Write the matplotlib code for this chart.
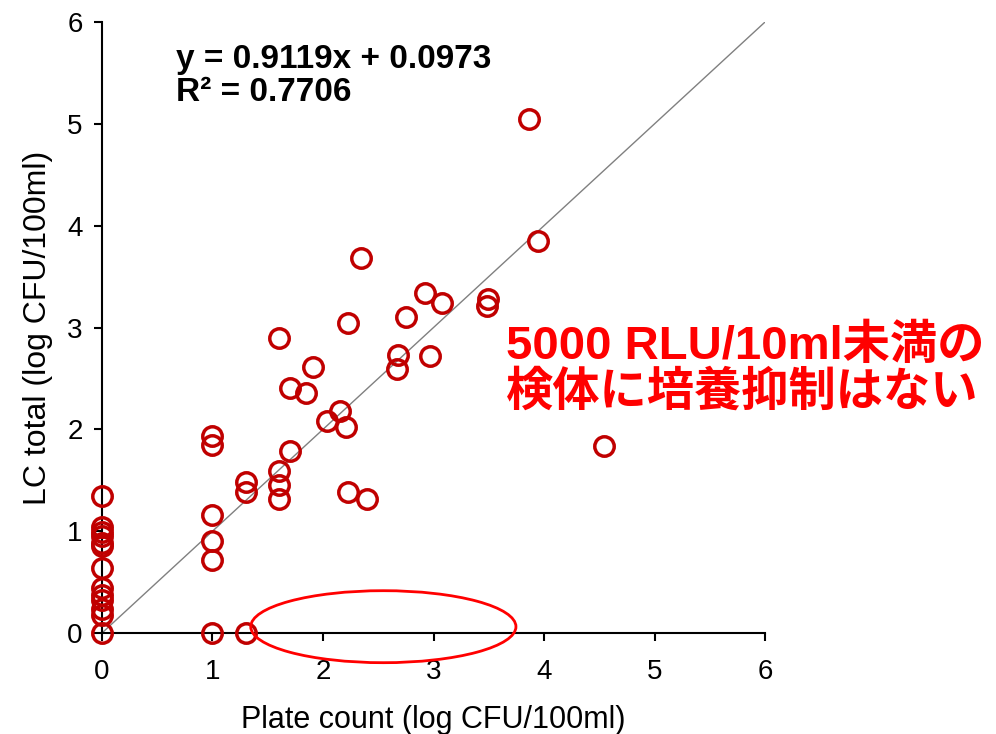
import matplotlib.pyplot as plt
from matplotlib.patches import Ellipse

plt.rcParams['font.family'] = ['Liberation Sans', 'DejaVu Sans']

# plate count (log CFU/100ml) vs LC total (log CFU/100ml)
plate = [0, 0, 0, 0, 0, 0, 0, 0, 0, 0, 0, 0, 0,
         1, 1, 1, 1, 1, 1, 1.3, 1.3, 1.3,
         1.6, 1.6, 1.6, 1.6, 1.7, 1.7, 1.85, 1.91,
         2.04, 2.15, 2.21, 2.23, 2.23, 2.34, 2.40,
         2.67, 2.68, 2.75, 2.92, 2.97, 3.08, 3.48, 3.49,
         3.86, 3.95, 4.54]
lc = [1.35, 1.04, 0.99, 0.95, 0.88, 0.85, 0.64, 0.44, 0.37, 0.32, 0.24, 0.18, 0,
      1.93, 1.85, 1.16, 0.90, 0.72, 0, 1.48, 1.38, 0,
      2.90, 1.59, 1.45, 1.32, 2.41, 1.79, 2.36, 2.61,
      2.08, 2.18, 2.02, 3.04, 1.38, 3.68, 1.32,
      2.59, 2.73, 3.10, 3.34, 2.72, 3.24, 3.21, 3.28,
      5.05, 3.85, 1.84]

eq_text = 'y = 0.9119x + 0.0973\nR² = 0.7706'
note_text = '5000 RLU/10ml未満の\n検体に培養抑制はない'

fig = plt.figure(figsize=(9.96, 7.34), dpi=100)
ax = fig.add_axes([0.1024, 0.1376, 0.6657, 0.8324])

# y = x reference line
ax.plot([0, 6], [0, 6], color='#808080', lw=1, zorder=1)
ax.plot(plate, lc, 'o', mfc='none', mec='#C00000', ms=14, mew=2.5,
        clip_on=False, zorder=3)

ax.add_patch(Ellipse((2.546, 0.062), 2.40, 0.707, fill=False,
                     edgecolor='#FF0000', lw=2, clip_on=False, zorder=4))

ax.set_xlim(0, 6)
ax.set_ylim(0, 6)
ax.set_xticks(range(7))
ax.set_yticks(range(7))
for s in ['top', 'right']:
    ax.spines[s].set_visible(False)
for s in ['left', 'bottom']:
    ax.spines[s].set_linewidth(1.5)
ax.tick_params(labelsize=20, width=1.5, length=6, direction='out', pad=8)
ax.tick_params(axis='x', pad=13)
ax.set_xlabel('Plate count (log CFU/100ml)', fontsize=22, labelpad=14)
ax.set_ylabel('LC total (log CFU/100ml)', fontsize=23, labelpad=10)

ax.text(0.67, 5.78, eq_text, fontsize=24, fontweight='bold',
        va='top', ha='left', linespacing=1.05)

fig.text(0.508, 0.558, note_text, color='#FF0000', fontsize=34,
         fontweight='bold', va='top', ha='left', linespacing=1.06,
         family=['Liberation Sans', 'Noto Sans CJK JP'])

fig.savefig('out.png', dpi=100)
